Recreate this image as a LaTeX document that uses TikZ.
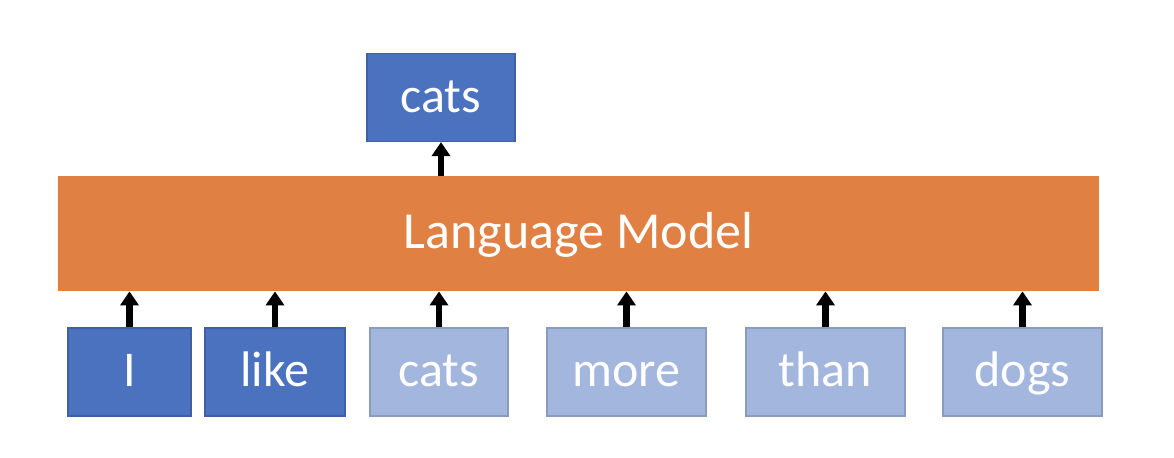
\documentclass[tikz,border=0pt]{standalone}
\usepackage{fontspec}
\setmainfont{Carlito}
\usetikzlibrary{arrows.meta}

\definecolor{tokdark}{HTML}{4A72BE}
\definecolor{toklight}{HTML}{A3B6DE}
\definecolor{lmorange}{HTML}{E08043}

\begin{document}
\begin{tikzpicture}[x=0.5pt,y=0.5pt,>={Triangle[width=9pt,length=7pt]}]
	\tikzset{every node/.style={text=white,font=\fontsize{25}{30}\selectfont,inner sep=0pt,text height=20pt,text depth=5pt}}
	\tikzset{tok/.style={fill=tokdark,draw=tokdark!85!black,line width=0.6pt,minimum height=44pt}}
	\tikzset{masked/.style={tok,fill=toklight,draw=toklight!85!black}}
	\tikzset{uparrow/.style={->,line width=3.2pt}}
	\useasboundingbox (0,0) rectangle (1174,458);
	% language model bar
	\node[fill=lmorange,minimum width=520.5pt,minimum height=57.5pt,font=\fontsize{26}{30}\selectfont] (lm) at (578.5,224.5) {Language Model};
	% prediction
	\node[tok,minimum width=74pt] (pred) at (441,360.5) {cats};
	\draw[uparrow] (lm.north -| pred.south) -- (pred.south);
	% input words
	\foreach \i/\x/\w/\s/\txt in {1/129.5/123/tok/I,2/275/140/tok/like,3/439/138/masked/cats,4/626.5/159/masked/more,5/825.5/159/masked/than,6/1022.5/159/masked/dogs}
	{
		\node[\s,minimum width=\w*0.5pt] (w\i) at (\x,86) {\txt};
		\draw[uparrow] (w\i.north) -- (w\i.north |- lm.south);
	}
\end{tikzpicture}
\end{document}
